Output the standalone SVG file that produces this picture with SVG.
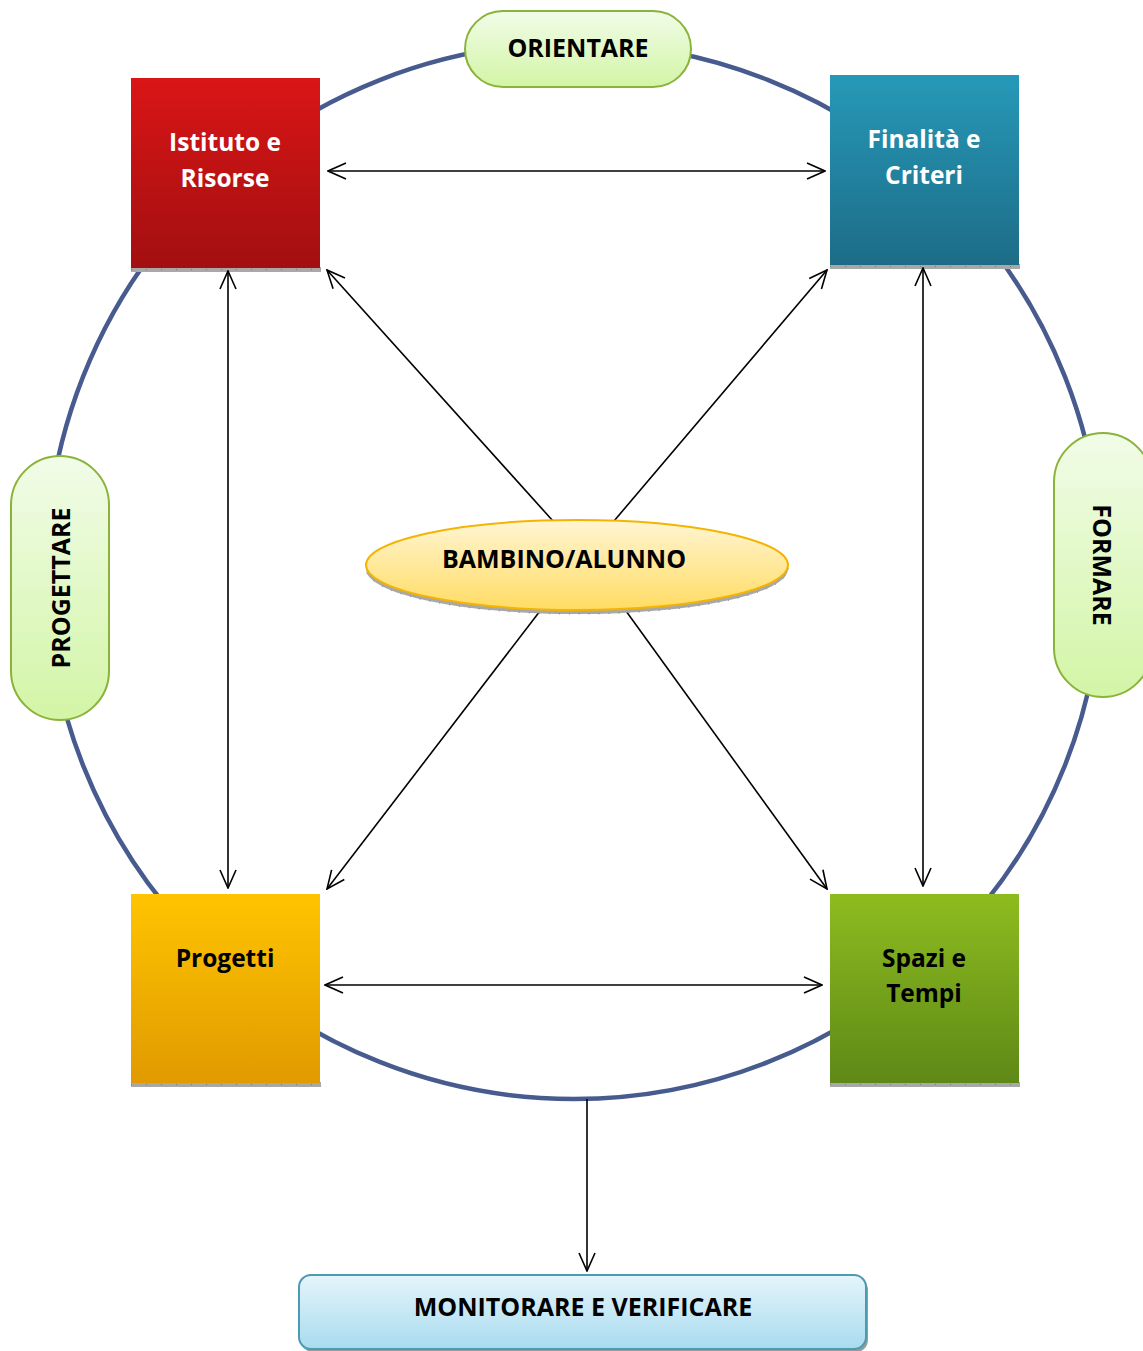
<svg xmlns="http://www.w3.org/2000/svg" width="1143" height="1351" viewBox="0 0 1143 1351">
<defs>
<linearGradient id="gRed" x1="0" y1="0" x2="0" y2="1"><stop offset="0" stop-color="#da1516"/><stop offset="1" stop-color="#a20f10"/></linearGradient>
<linearGradient id="gTeal" x1="0" y1="0" x2="0" y2="1"><stop offset="0" stop-color="#2699b8"/><stop offset="1" stop-color="#1d6c87"/></linearGradient>
<linearGradient id="gOrange" x1="0" y1="0" x2="0" y2="1"><stop offset="0" stop-color="#ffc400"/><stop offset="1" stop-color="#e19a00"/></linearGradient>
<linearGradient id="gGreen" x1="0" y1="0" x2="0" y2="1"><stop offset="0" stop-color="#8dbc1f"/><stop offset="1" stop-color="#5e8917"/></linearGradient>
<linearGradient id="gPill" x1="0" y1="0" x2="0" y2="1"><stop offset="0" stop-color="#f1fce8"/><stop offset="1" stop-color="#d3f5a6"/></linearGradient>
<linearGradient id="gYellow" x1="0" y1="0" x2="0" y2="1"><stop offset="0" stop-color="#fff5d3"/><stop offset="1" stop-color="#ffdc63"/></linearGradient>
<linearGradient id="gBlue" x1="0" y1="0" x2="0" y2="1"><stop offset="0" stop-color="#e5f5fb"/><stop offset="1" stop-color="#a8dbef"/></linearGradient>
<marker id="arr" viewBox="0 0 20 20" refX="19" refY="10" markerWidth="20" markerHeight="20" markerUnits="userSpaceOnUse" orient="auto-start-reverse">
<path d="M1,2 L19,10 L1,18" fill="none" stroke="#000" stroke-width="1.6"/>
</marker>
<style>
.box text, .lbl { font-family: "Open Sans", "Liberation Sans", sans-serif; font-weight: bold; text-anchor: middle; }
.w { fill: #ffffff; font-size: 24.5px; }
.b { fill: #000000; font-size: 24.5px; }
.shadow { fill: #a8a8a8; }
.ticks { stroke: #7a7a7a; stroke-width: 1; stroke-dasharray: 1 14; }
.pill { fill: url(#gPill); stroke: #8ab33a; stroke-width: 2; }
.conn line { stroke: #000; stroke-width: 1.6; }
</style>
</defs>
<rect width="1143" height="1351" fill="#ffffff"/>
<circle cx="574" cy="571" r="528" fill="none" stroke="#475b8f" stroke-width="4.5"/>

<g id="istituto" class="box">
<rect class="shadow" x="131" y="267" width="190" height="5"/>
<line class="ticks" x1="131" y1="269.5" x2="321" y2="269.5"/>
<rect x="131" y="78" width="189" height="190" fill="url(#gRed)"/>
<text class="w" x="225" y="151">Istituto e</text>
<text class="w" x="225" y="187">Risorse</text>
</g>
<g id="finalita" class="box">
<rect class="shadow" x="830" y="264" width="190" height="5"/>
<line class="ticks" x1="830" y1="266.5" x2="1020" y2="266.5"/>
<rect x="830" y="75" width="189" height="190" fill="url(#gTeal)"/>
<text class="w" x="924" y="148">Finalità e</text>
<text class="w" x="924" y="184">Criteri</text>
</g>
<g id="progetti" class="box">
<rect class="shadow" x="131" y="1082" width="190" height="5"/>
<line class="ticks" x1="131" y1="1084.5" x2="321" y2="1084.5"/>
<rect x="131" y="894" width="189" height="189" fill="url(#gOrange)"/>
<text class="b" x="225" y="967">Progetti</text>
</g>
<g id="spazi" class="box">
<rect class="shadow" x="830" y="1082" width="190" height="5"/>
<line class="ticks" x1="830" y1="1084.5" x2="1020" y2="1084.5"/>
<rect x="830" y="894" width="189" height="189" fill="url(#gGreen)"/>
<text class="b" x="924" y="967">Spazi e</text>
<text class="b" x="924" y="1002">Tempi</text>
</g>

<g id="connectors" class="conn">
<line x1="328" y1="171" x2="825" y2="171" marker-start="url(#arr)" marker-end="url(#arr)"/>
<line x1="325" y1="985" x2="822" y2="985" marker-start="url(#arr)" marker-end="url(#arr)"/>
<line x1="228" y1="271" x2="228" y2="888" marker-start="url(#arr)" marker-end="url(#arr)"/>
<line x1="923" y1="268" x2="923" y2="886" marker-start="url(#arr)" marker-end="url(#arr)"/>
<line x1="553" y1="521" x2="327" y2="270" marker-end="url(#arr)"/>
<line x1="614" y1="521" x2="827" y2="270" marker-end="url(#arr)"/>
<line x1="540" y1="611" x2="327" y2="889" marker-end="url(#arr)"/>
<line x1="626" y1="611" x2="827" y2="889" marker-end="url(#arr)"/>
<line x1="587" y1="1099" x2="587" y2="1271" marker-end="url(#arr)"/>
</g>

<g id="bambino">
<ellipse cx="577" cy="569" rx="211" ry="45" fill="#a8a8a8"/>
<ellipse cx="577" cy="569" rx="211" ry="45" fill="none" stroke="#777" stroke-width="1" stroke-dasharray="1 9"/>
<ellipse cx="577" cy="565" rx="211" ry="45" fill="url(#gYellow)" stroke="#f4b400" stroke-width="2"/>
<text class="lbl" x="564" y="568" font-size="25">BAMBINO/ALUNNO</text>
</g>

<g id="orientare">
<rect class="pill" x="465" y="11" width="226" height="76" rx="38"/>
<text class="lbl" x="578" y="57" font-size="25">ORIENTARE</text>
</g>
<g id="progettare">
<rect class="pill" x="11" y="456" width="98" height="264" rx="49"/>
<text class="lbl" transform="translate(70,588) rotate(-90)" font-size="25">PROGETTARE</text>
</g>
<g id="formare">
<rect class="pill" x="1054" y="433" width="98" height="264" rx="49"/>
<text class="lbl" transform="translate(1093,565) rotate(90)" font-size="25">FORMARE</text>
</g>

<g id="monitorare">
<rect x="301" y="1278" width="567" height="74" rx="12" fill="#9a9a9a"/>
<rect x="299" y="1275" width="567" height="74" rx="12" fill="url(#gBlue)" stroke="#4b9bb1" stroke-width="2"/>
<text class="lbl" x="583" y="1316" font-size="25">MONITORARE E VERIFICARE</text>
</g>
</svg>
